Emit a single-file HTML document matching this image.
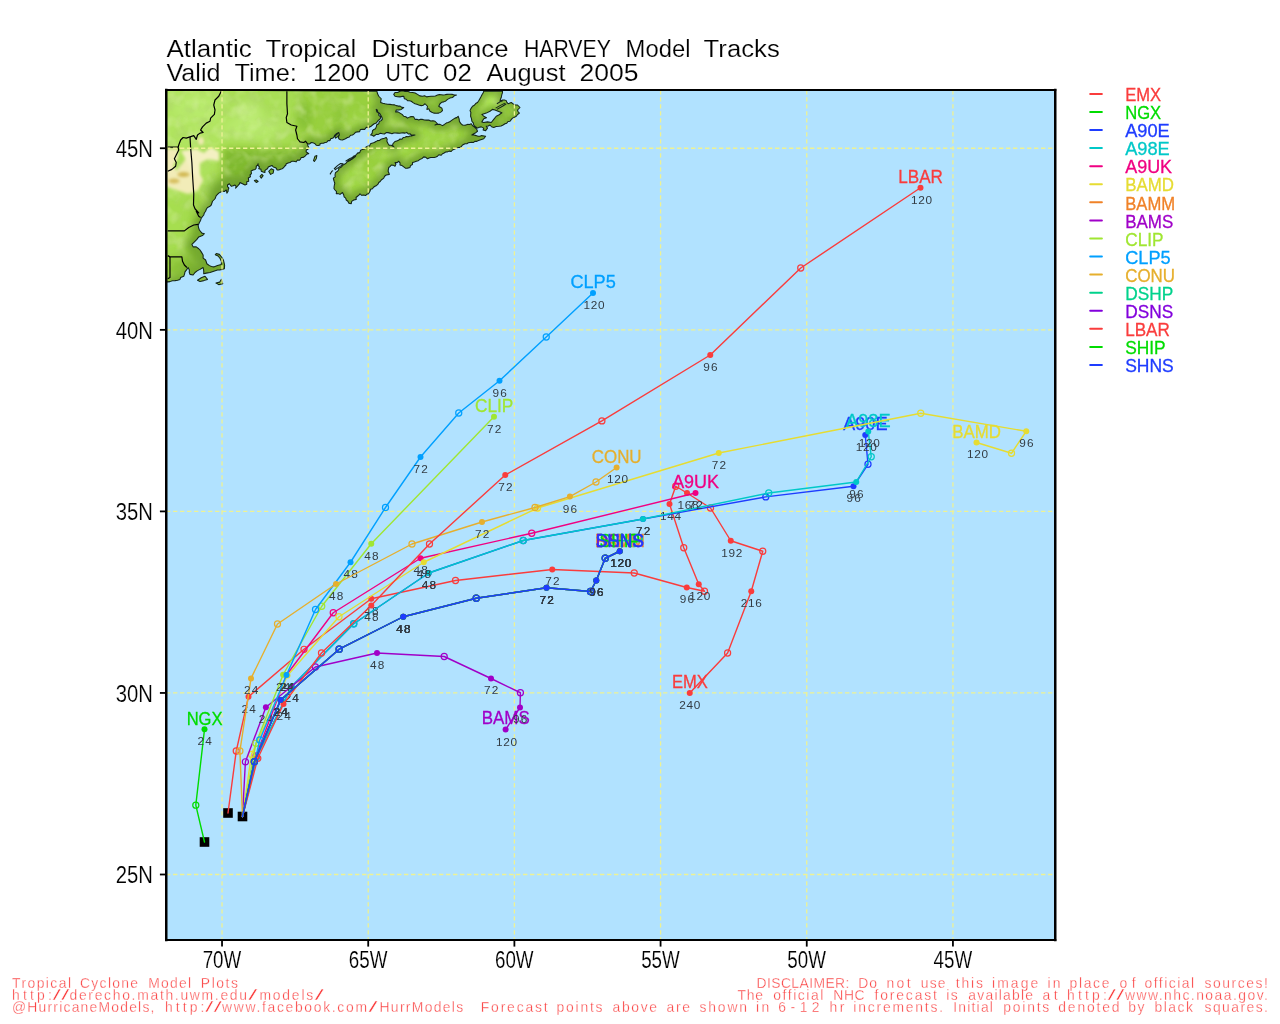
<!DOCTYPE html>
<html lang="en"><head><meta charset="utf-8">
<title>Atlantic Tropical Disturbance HARVEY Model Tracks</title>
<style>
html,body{margin:0;padding:0;background:#fff;}
body{width:1280px;height:1024px;overflow:hidden;}
svg{display:block;}
text{font-family:"Liberation Sans", Arial, Helvetica, sans-serif;}
.ttl{font-size:23.1px;fill:#000;stroke:#fff;stroke-width:0.16px;}
.ax{font-size:23.7px;fill:#000;stroke:#fff;stroke-width:0.16px;}
.nm{font-size:18.5px;stroke-width:0.3px;}
.hr{font-size:11.8px;fill:#333c44;}
.ft{font-size:13.9px;fill:#fa4040;stroke:#fff;stroke-width:0.32px;}
.trk{fill:none;stroke-width:1.4;stroke-linejoin:round;stroke-linecap:round;}
.coast{fill:none;stroke:#14241c;stroke-width:1.05;stroke-linejoin:round;}
.bord{fill:none;stroke:#000;stroke-width:1.2;stroke-linejoin:round;}
</style></head><body>
<svg width="1280" height="1024" viewBox="0 0 1280 1024">
<defs>
<clipPath id="mapclip"><rect x="166.25" y="90.0" width="889.0" height="850.0"/></clipPath>
<clipPath id="landclip"><path clip-rule="evenodd" d="M166.5 90 L376.88 91.25 L377.57 93.84 L378.75 96.25 L381.25 98.75 L380.84 100.61 L380.62 102.5 L382.76 103.31 L385 103.75 L387.49 104.16 L390 104.38 L392.1 104.71 L394.24 104.86 L396.25 105.62 L398.12 106.11 L400.12 106.08 L401.79 107.36 L403.75 107.5 L401.25 109.38 L398.8 110.1 L396.25 110 L395.62 111.88 L397.98 111.89 L400 113.12 L402.09 114.42 L403.75 116.25 L405.83 116.78 L407.5 118.12 L410 116.88 L411.88 116.45 L413.75 116.88 L415 119.38 L416.95 119.26 L418.75 120 L420.54 119.18 L422.5 119.38 L424.53 120.08 L426.64 120.11 L428.75 120 L430.7 121.08 L432.95 120.68 L435 121.25 L437.5 123.75 L435 125 L437.44 124.22 L440 124.38 L442.5 125.62 L444.43 124.45 L446.25 123.12 L448.05 122.54 L449.76 121.81 L451.25 120.62 L453.1 119.33 L455 118.12 L456.83 117.63 L458.12 116.25 L459.07 118.67 L459.38 121.25 L460.64 123.37 L462.5 125 L465.06 125.18 L467.5 124.38 L469.44 124.44 L471.25 123.75 L472.81 125.94 L475 127.5 L476.66 129.1 L477.5 131.25 L475.77 132.71 L473.75 133.75 L471.88 135 L474.1 135.05 L476.25 135.62 L478.07 136.27 L480 136.25 L481.25 135.62 L485.62 136.25 L483.75 138.75 L480 140 L480 140 L478.37 140.57 L476.81 141.39 L475 141.25 L473.53 142.44 L471.71 142.25 L470 142.5 L468.29 142.76 L466.79 143.84 L465 143.75 L462.5 145 L461.25 146.66 L459.54 147.42 L457.5 147.5 L455.94 148.56 L454.22 149.27 L452.5 150 L451.17 151.52 L449.12 151.13 L447.5 151.88 L445.65 152.02 L444.11 152.98 L442.5 153.75 L441.18 155.27 L438.84 154.76 L437.5 156.25 L435.93 157.04 L434.26 157.44 L432.5 157.5 L430.71 157.44 L429.06 157.92 L427.5 158.75 L425.88 157.3 L423.75 156.88 L422.1 158.47 L420 159.38 L418.3 160.67 L416.25 161.25 L414.38 161.9 L412.5 162.5 L412.46 164.56 L410.44 165.64 L410 167.5 L407.5 168.12 L405.39 168.21 L403.75 166.88 L402.06 165.57 L400 165 L400.02 162.91 L398.75 161.25 L397.12 162.62 L395 162.5 L395.89 164.38 L395 166.25 L393.28 165.17 L391.25 165 L390.18 166.43 L388.75 167.5 L388.39 169.37 L388.12 171.25 L388.8 172.79 L389.38 174.38 L386.25 175 L384.58 176.22 L383.75 178.12 L381.25 180 L380.2 181.45 L378.75 182.5 L377.97 184.22 L376.66 185.41 L375 186.25 L373.5 187.25 L372.5 188.75 L370.58 189.33 L370 191.25 L368.5 193.75 L366.92 194.17 L365.59 195.55 L363.75 195 L361.57 195.29 L360 193.75 L358.92 195.17 L357.5 196.25 L356.02 197.47 L356.25 199.38 L353.75 200 L351.68 201.33 L351.25 203.75 L348.75 203.12 L347.9 201.24 L346.25 200 L345.7 198.19 L344.1 196.91 L343.75 195 L342.5 192.5 L340 194.38 L338.2 193.61 L336.25 193.75 L336.56 191.56 L335 190 L333.98 188.43 L334.09 186.73 L334.38 185 L334.79 183.26 L334.23 181.63 L333.75 180 L333.34 178.13 L335.23 176.83 L335 175 L335.49 172.62 L337.5 171.25 L338.57 170.02 L338.87 168.16 L340.62 167.5 L341.9 166.28 L343.12 165 L344.86 164.08 L346.42 162.94 L347.5 161.25 L349.22 160.07 L351.37 159.47 L352.5 157.5 L353.57 156.2 L355.21 155.54 L356.54 154.55 L357.5 153.12 L359.72 152.62 L360.6 150.31 L362.5 149.38 L364.51 148.88 L365.78 147.21 L367.5 146.25 L369.59 145.88 L370.54 143.7 L372.5 143.12 L374.27 142.49 L375.9 141.58 L377.5 140.62 L379.36 140.52 L380.82 139.34 L382.5 138.75 L384.42 138.26 L386.25 137.5 L387.2 139.27 L386.88 141.25 L388.12 143.75 L389.28 145.35 L391.25 145.25 L392.63 146.18 L394 147.12 L392.8 145.79 L392.75 144 L393.86 142.73 L395 141.5 L396.79 140.91 L398.57 140.31 L400 139 L401.92 139.15 L403.22 137.51 L405 137.25 L406.57 136.46 L408.4 136.68 L410 136 L411.72 135.95 L413.27 135.01 L415 135 L413.1 135.51 L411.44 135.07 L410 133.75 L408.28 133.99 L406.78 132.4 L405 133.12 L403.12 132.89 L401.25 133.07 L399.38 133.31 L397.5 133.12 L395.62 132.96 L393.75 132.92 L391.88 133.75 L390 133.12 L388.07 132.62 L386.17 132.54 L384.41 133.98 L382.5 133.75 L380.35 133.29 L378.36 134.41 L376.25 134.38 L373.75 136.25 L372.32 135.28 L370.62 135 L372.23 133.1 L372.5 130.62 L373.86 129.48 L375.55 128.68 L376.25 126.88 L376.8 124.76 L378.75 123.75 L379.24 121.58 L381.25 120.62 L382.37 119.09 L381.88 117.25 L380.8 115.38 L379.75 113.5 L377.82 112.23 L377.25 110 L376.25 109.38 L376.77 111.74 L378.75 113.12 L378.82 115.43 L380.62 116.88 L380.27 118.79 L378.75 120 L377.35 121.44 L376.25 123.12 L374.23 123.77 L372.5 125 L370.7 126.57 L368.5 127.5 L366.25 127.31 L364.69 129.36 L362.5 129.38 L360.44 129.42 L359.53 131.77 L357.5 131.88 L355.48 132.35 L354.1 133.86 L352.5 135 L350.52 135.2 L349.31 136.96 L347.5 137.5 L345.89 138.44 L344.26 139.35 L342.5 140 L340.5 139.74 L338.75 138.75 L338.45 136.77 L339.38 135 L338.75 132.5 L336.25 133.75 L334.62 135.37 L333.75 137.5 L332.34 138.35 L330.62 138.83 L330 140.62 L328.08 140.58 L326.78 142.18 L325 142.5 L323.41 143.22 L321.65 143.28 L320 143.75 L320 145 L318.11 145.46 L316.38 145.32 L315 143.75 L313.22 142.85 L311.25 142.5 L309.66 143.98 L307.5 143.75 L307.88 145.71 L308.75 147.5 L307.99 149.24 L306.25 150 L306.15 151.87 L307.46 152.8 L308.75 153.75 L307.11 154 L305.98 155.02 L305 156.25 L303.3 157.39 L301.25 157.5 L300.49 159.07 L299.46 160.24 L297.5 160 L296.03 161.85 L293.75 161.25 L291.69 161.33 L290 162.5 L288.09 163.02 L286.25 163.75 L285.77 165.23 L284.58 166.25 L283.75 167.5 L282.25 168.66 L280.44 169.21 L278.75 170 L277.01 169.91 L276.34 168.2 L275 167.5 L273.36 166.99 L271.96 165.48 L270 166.25 L268.28 167.03 L267.5 168.75 L266 169.55 L264.88 170.61 L265 172.5 L263.1 171.95 L261.25 171.25 L260.89 169.11 L258.75 168.75 L259.42 166.97 L258.03 165.45 L258.12 163.75 L257.51 165.24 L256.25 166.25 L256.13 168.27 L255.13 169.55 L253.12 170 L251.07 171.04 L251.47 173.6 L250 175 L250.48 176.72 L248.33 177.92 L248.56 179.59 L248.75 181.25 L246.75 181.75 L246.79 184.29 L245 185 L242.5 183.75 L240 182.5 L239.45 183.94 L238.36 185.02 L237.5 186.25 L235.62 188.12 L236.11 186.4 L235 185 L233.2 185.84 L231.25 186.25 L230.3 185.01 L229.38 183.75 L227.5 185 L227.57 186.57 L228.91 188.02 L228.12 189.67 L228.12 191.25 L226.88 193.12 L226.69 191.54 L226.25 190 L224.38 191.5 L222.12 191 L222.12 191.25 L218.75 193.12 L216.25 195.62 L215 198.75 L212.5 201.25 L211.25 205 L209.6 206.58 L207.5 207.5 L206.31 209.25 L205.62 211.25 L204.34 212.95 L203.75 215 L201.25 218.12 L200.57 220.42 L199.38 222.5 L198.12 225.62 L198.65 227.84 L199.38 230 L201.88 233.12 L204.38 233.75 L202.5 235.62 L198.75 236.88 L196.88 239.38 L194.38 241.88 L191.88 244.38 L193.12 246.88 L196.25 246.88 L198.75 248.75 L200.14 250.2 L201.25 251.88 L203.12 255 L203.12 258.12 L205.62 260 L206.88 263.75 L209.38 265.62 L211.51 266.44 L213.75 266.88 L217.5 265.62 L221.25 264.38 L221.5 261.88 L220.25 258.75 L218.12 256 L215.25 254.75 L216.25 253.5 L219.38 254.38 L221.88 257.5 L222.96 259.3 L223.75 261.25 L224.62 265 L224.38 268.75 L221.88 269.38 L219.72 269.92 L217.5 270 L213.75 271.25 L210 272.5 L206.25 273.12 L203.75 273.75 L203.78 271.64 L203.56 269.56 L203.12 267.5 L200 269.38 L197.5 270.62 L195 272.5 L193.12 275 L190 274.38 L189.25 272.25 L189.38 270 L188.12 267.5 L186.88 269.38 L185 271.88 L184.52 274.11 L183.75 276.25 L180.62 277.5 L180 279.38 L177.55 280.2 L175 280.62 L172.42 280.73 L170 281.62 L167.75 281.88 L166.5 282ZM395 92.5 L397.64 92.42 L400 91.25 L402.53 90.79 L405 91.5 L407.5 91.25 L409.93 92.15 L412.5 92.5 L415.14 93.06 L417.5 94.38 L419.8 95.86 L422.5 96.25 L424.61 95.75 L426.65 96.87 L428.75 96.5 L430.97 96.34 L433.2 96.17 L435.41 95.97 L437.5 95 L439.36 94.63 L441.24 94.68 L443.13 95.06 L445 94.75 L446.86 94.39 L448.74 94.28 L450.61 94.15 L452.5 94.38 L454.43 95.11 L456.5 95 L454.26 95.87 L452.5 97.5 L449.87 98.11 L447.5 99.38 L445.81 100.91 L443.75 101.88 L441.65 102.36 L440 103.75 L438.75 106.25 L440.31 107.2 L441.88 108.12 L442.5 110.62 L440.8 112.14 L438.75 113.12 L436.25 113.17 L433.75 113.12 L431.83 112.27 L430 111.25 L428.75 108.75 L426.88 109.38 L427.5 106.25 L425 103.75 L423.35 105.14 L421.25 105.62 L418.75 105 L416.9 104.3 L415 103.75 L413.03 102.64 L411.25 101.25 L409.39 100.85 L407.5 100.62 L406.21 99.24 L404.38 98.75 L403.75 96.25 L401.85 96.39 L400 96.88 L397.49 96.68 L395 96.25 L393.75 94.38ZM483.75 91.25 L483.09 93 L482.11 94.6 L481.25 96.25 L480.41 97.87 L479.44 99.41 L478.55 101 L477.5 102.5 L475.7 103.57 L474.37 105.27 L472.5 106.25 L471.09 108.34 L470 110.62 L470.89 112.42 L470.69 114.34 L470.62 116.25 L471.47 118.69 L471.88 121.25 L473.26 122.9 L473.75 125 L475.41 126.82 L477.5 128.12 L479.29 127.25 L481.25 126.88 L483.75 128.12 L483.12 130 L485.62 130.62 L487.5 128.12 L486.25 126.25 L488.25 126.01 L490 125 L491.52 126.78 L493.75 127.5 L496.17 126.54 L498.75 126.25 L501.04 125.93 L503.08 124.98 L505 123.75 L506.77 123.13 L508.04 121.49 L510 121.25 L511.2 119.65 L512.5 118.12 L514.45 117.34 L516.25 116.25 L517.61 114.48 L519.38 113.12 L518.11 111.76 L517.5 110 L520 107.5 L517.5 105 L515.58 104.95 L513.75 104.38 L511.25 102.5 L508.12 103.75 L506.89 102.36 L506.25 100.62 L504.44 99.91 L502.5 100 L500 101.25 L500.42 99.31 L501.25 97.5 L501.77 94.97 L502.5 92.5 L502.5 91.25ZM492.5 109.38 L495 110 L498.12 111.25 L501.88 112.75 L498.75 115 L496.25 116.25 L493.75 119.38 L491.25 122.5 L487.5 121.88 L483.75 122.5 L481.88 121.88 L483.75 118.75 L486.5 117.75 L483.75 116.25 L481.88 114.38 L486.25 113.12 L490 111.25ZM197.5 280.25 L201.25 277.75 L205 276.25 L207.5 279.38 L203.75 280.62 L200 281.5ZM216 283.12 L219.75 282.12 L221.25 279.38 L222.75 283.75 L218.75 284.62ZM313.5 160.62 L315 156.25 L316.88 155.62 L316.25 158.75 L314.38 161.5ZM268.75 171.25 L271.25 168.75 L273.75 170 L273.12 173.12 L270.62 174.38ZM260 176.25 L261.88 174.38 L263.12 175.62 L261.25 178.12ZM254.38 180.62 L256.25 180 L258.12 181.5 L256.25 182.5ZM335 136.25 L336.88 134.38 L338.75 132.5 L339.38 134.75 L337.5 136.88 L335.62 138.12Z"/></clipPath>
<filter id="bl6" x="-50%" y="-50%" width="200%" height="200%"><feGaussianBlur stdDeviation="6"/></filter>
<filter id="texd" filterUnits="userSpaceOnUse" x="160" y="85" width="380" height="215"><feTurbulence type="fractalNoise" baseFrequency="0.085" numOctaves="2" seed="7"/><feColorMatrix type="matrix" values="0 0 0 0 0.43  0 0 0 0 0.66  0 0 0 0 0.16  2.6 0 0 0 -1.18"/></filter>
<filter id="texl" filterUnits="userSpaceOnUse" x="160" y="85" width="380" height="215"><feTurbulence type="fractalNoise" baseFrequency="0.085" numOctaves="2" seed="21"/><feColorMatrix type="matrix" values="0 0 0 0 0.76  0 0 0 0 0.93  0 0 0 0 0.46  0 2.6 0 0 -1.18"/></filter>
<filter id="bl2" x="-50%" y="-50%" width="200%" height="200%"><feGaussianBlur stdDeviation="1.8"/></filter>
<filter id="bl3" x="-50%" y="-50%" width="200%" height="200%"><feGaussianBlur stdDeviation="3"/></filter>
</defs>
<rect x="0" y="0" width="1280" height="1024" fill="#fff"/>
<rect x="166.25" y="90.0" width="889.0" height="850.0" fill="#b1e2ff"/>
<g clip-path="url(#mapclip)">
<g clip-path="url(#landclip)">
<rect x="160" y="85" width="370" height="210" fill="#98d03e"/>
<g filter="url(#bl6)">
<rect x="150" y="76" width="76" height="76" fill="#b0e45e"/>
<rect x="224" y="76" width="72" height="70" fill="#a9df55"/>
<ellipse cx="252" cy="128" rx="30" ry="13" fill="#b8ea6c"/>
<ellipse cx="248" cy="110" rx="12" ry="7" fill="#c4ee80"/>
<ellipse cx="196" cy="108" rx="24" ry="14" fill="#b8ea6c"/>
<rect x="150" y="150" width="70" height="46" fill="#aee25c"/>
<rect x="150" y="196" width="42" height="62" fill="#a6de50"/>
<ellipse cx="360" cy="128" rx="22" ry="10" fill="#a2da4a"/>
<ellipse cx="355" cy="178" rx="14" ry="10" fill="#a2da4a"/>
<ellipse cx="395" cy="150" rx="18" ry="7" fill="#a2da4a"/>
<ellipse cx="430" cy="135" rx="20" ry="7" fill="#a2da4a"/>
<ellipse cx="492" cy="100" rx="10" ry="12" fill="#b0e85c"/>
</g>
<g filter="url(#bl3)">
<rect x="223.5" y="149.5" width="90" height="50" fill="#80b92f" fill-opacity="0.95"/>
<ellipse cx="304" cy="116" rx="8" ry="14" fill="#86bf33" fill-opacity="0.8"/>
<ellipse cx="340" cy="120" rx="6" ry="16" fill="#8ac436" fill-opacity="0.7"/>
</g>
<rect x="160" y="85" width="380" height="215" filter="url(#texd)" opacity="0.5"/>
<rect x="160" y="85" width="380" height="215" filter="url(#texl)" opacity="0.32"/>
<g filter="url(#bl3)" fill="none" stroke="#6b9c2a" stroke-linejoin="round">
<path stroke-width="10" stroke-opacity="0.8" d="M376.88 91.25 L377.57 93.84 L378.75 96.25 L381.25 98.75 L380.84 100.61 L380.62 102.5 L382.76 103.31 L385 103.75 L387.49 104.16 L390 104.38 L392.1 104.71 L394.24 104.86 L396.25 105.62 L398.12 106.11 L400.12 106.08 L401.79 107.36 L403.75 107.5 L401.25 109.38 L398.8 110.1 L396.25 110 L395.62 111.88 L397.98 111.89 L400 113.12 L402.09 114.42 L403.75 116.25 L405.83 116.78 L407.5 118.12 L410 116.88 L411.88 116.45 L413.75 116.88 L415 119.38 L416.95 119.26 L418.75 120 L420.54 119.18 L422.5 119.38 L424.53 120.08 L426.64 120.11 L428.75 120 L430.7 121.08 L432.95 120.68 L435 121.25 L437.5 123.75 L435 125 L437.44 124.22 L440 124.38 L442.5 125.62 L444.43 124.45 L446.25 123.12 L448.05 122.54 L449.76 121.81 L451.25 120.62 L453.1 119.33 L455 118.12 L456.83 117.63 L458.12 116.25 L459.07 118.67 L459.38 121.25 L460.64 123.37 L462.5 125 L465.06 125.18 L467.5 124.38 L469.44 124.44 L471.25 123.75 L472.81 125.94 L475 127.5 L476.66 129.1 L477.5 131.25 L475.77 132.71 L473.75 133.75 L471.88 135 L474.1 135.05 L476.25 135.62 L478.07 136.27 L480 136.25 L481.25 135.62 L485.62 136.25 L483.75 138.75 L480 140 L480 140 L478.37 140.57 L476.81 141.39 L475 141.25 L473.53 142.44 L471.71 142.25 L470 142.5 L468.29 142.76 L466.79 143.84 L465 143.75 L462.5 145 L461.25 146.66 L459.54 147.42 L457.5 147.5 L455.94 148.56 L454.22 149.27 L452.5 150 L451.17 151.52 L449.12 151.13 L447.5 151.88 L445.65 152.02 L444.11 152.98 L442.5 153.75 L441.18 155.27 L438.84 154.76 L437.5 156.25 L435.93 157.04 L434.26 157.44 L432.5 157.5 L430.71 157.44 L429.06 157.92 L427.5 158.75 L425.88 157.3 L423.75 156.88 L422.1 158.47 L420 159.38 L418.3 160.67 L416.25 161.25 L414.38 161.9 L412.5 162.5 L412.46 164.56 L410.44 165.64 L410 167.5 L407.5 168.12 L405.39 168.21 L403.75 166.88 L402.06 165.57 L400 165 L400.02 162.91 L398.75 161.25 L397.12 162.62 L395 162.5 L395.89 164.38 L395 166.25 L393.28 165.17 L391.25 165 L390.18 166.43 L388.75 167.5 L388.39 169.37 L388.12 171.25 L388.8 172.79 L389.38 174.38 L386.25 175 L384.58 176.22 L383.75 178.12 L381.25 180 L380.2 181.45 L378.75 182.5 L377.97 184.22 L376.66 185.41 L375 186.25 L373.5 187.25 L372.5 188.75 L370.58 189.33 L370 191.25 L368.5 193.75 L366.92 194.17 L365.59 195.55 L363.75 195 L361.57 195.29 L360 193.75 L358.92 195.17 L357.5 196.25 L356.02 197.47 L356.25 199.38 L353.75 200 L351.68 201.33 L351.25 203.75 L348.75 203.12 L347.9 201.24 L346.25 200 L345.7 198.19 L344.1 196.91 L343.75 195 L342.5 192.5 L340 194.38 L338.2 193.61 L336.25 193.75 L336.56 191.56 L335 190 L333.98 188.43 L334.09 186.73 L334.38 185 L334.79 183.26 L334.23 181.63 L333.75 180 L333.34 178.13 L335.23 176.83 L335 175 L335.49 172.62 L337.5 171.25 L338.57 170.02 L338.87 168.16 L340.62 167.5 L341.9 166.28 L343.12 165 L344.86 164.08 L346.42 162.94 L347.5 161.25 L349.22 160.07 L351.37 159.47 L352.5 157.5 L353.57 156.2 L355.21 155.54 L356.54 154.55 L357.5 153.12 L359.72 152.62 L360.6 150.31 L362.5 149.38 L364.51 148.88 L365.78 147.21 L367.5 146.25 L369.59 145.88 L370.54 143.7 L372.5 143.12 L374.27 142.49 L375.9 141.58 L377.5 140.62 L379.36 140.52 L380.82 139.34 L382.5 138.75 L384.42 138.26 L386.25 137.5 L387.2 139.27 L386.88 141.25 L388.12 143.75 L389.28 145.35 L391.25 145.25 L392.63 146.18 L394 147.12 L392.8 145.79 L392.75 144 L393.86 142.73 L395 141.5 L396.79 140.91 L398.57 140.31 L400 139 L401.92 139.15 L403.22 137.51 L405 137.25 L406.57 136.46 L408.4 136.68 L410 136 L411.72 135.95 L413.27 135.01 L415 135 L413.1 135.51 L411.44 135.07 L410 133.75 L408.28 133.99 L406.78 132.4 L405 133.12 L403.12 132.89 L401.25 133.07 L399.38 133.31 L397.5 133.12 L395.62 132.96 L393.75 132.92 L391.88 133.75 L390 133.12 L388.07 132.62 L386.17 132.54 L384.41 133.98 L382.5 133.75 L380.35 133.29 L378.36 134.41 L376.25 134.38 L373.75 136.25 L372.32 135.28 L370.62 135 L372.23 133.1 L372.5 130.62 L373.86 129.48 L375.55 128.68 L376.25 126.88 L376.8 124.76 L378.75 123.75 L379.24 121.58 L381.25 120.62 L382.37 119.09 L381.88 117.25 L380.8 115.38 L379.75 113.5 L377.82 112.23 L377.25 110 L376.25 109.38 L376.77 111.74 L378.75 113.12 L378.82 115.43 L380.62 116.88 L380.27 118.79 L378.75 120 L377.35 121.44 L376.25 123.12 L374.23 123.77 L372.5 125 L370.7 126.57 L368.5 127.5 L366.25 127.31 L364.69 129.36 L362.5 129.38 L360.44 129.42 L359.53 131.77 L357.5 131.88 L355.48 132.35 L354.1 133.86 L352.5 135 L350.52 135.2 L349.31 136.96 L347.5 137.5 L345.89 138.44 L344.26 139.35 L342.5 140 L340.5 139.74 L338.75 138.75 L338.45 136.77 L339.38 135 L338.75 132.5 L336.25 133.75 L334.62 135.37 L333.75 137.5 L332.34 138.35 L330.62 138.83 L330 140.62 L328.08 140.58 L326.78 142.18 L325 142.5 L323.41 143.22 L321.65 143.28 L320 143.75 L320 145 L318.11 145.46 L316.38 145.32 L315 143.75 L313.22 142.85 L311.25 142.5 L309.66 143.98 L307.5 143.75 L307.88 145.71 L308.75 147.5 L307.99 149.24 L306.25 150 L306.15 151.87 L307.46 152.8 L308.75 153.75 L307.11 154 L305.98 155.02 L305 156.25 L303.3 157.39 L301.25 157.5 L300.49 159.07 L299.46 160.24 L297.5 160 L296.03 161.85 L293.75 161.25 L291.69 161.33 L290 162.5 L288.09 163.02 L286.25 163.75 L285.77 165.23 L284.58 166.25 L283.75 167.5 L282.25 168.66 L280.44 169.21 L278.75 170 L277.01 169.91 L276.34 168.2 L275 167.5 L273.36 166.99 L271.96 165.48 L270 166.25 L268.28 167.03 L267.5 168.75 L266 169.55 L264.88 170.61 L265 172.5 L263.1 171.95 L261.25 171.25 L260.89 169.11 L258.75 168.75 L259.42 166.97 L258.03 165.45 L258.12 163.75 L257.51 165.24 L256.25 166.25 L256.13 168.27 L255.13 169.55 L253.12 170 L251.07 171.04 L251.47 173.6 L250 175 L250.48 176.72 L248.33 177.92 L248.56 179.59 L248.75 181.25 L246.75 181.75 L246.79 184.29 L245 185 L242.5 183.75 L240 182.5 L239.45 183.94 L238.36 185.02 L237.5 186.25 L235.62 188.12 L236.11 186.4 L235 185 L233.2 185.84 L231.25 186.25 L230.3 185.01 L229.38 183.75 L227.5 185 L227.57 186.57 L228.91 188.02 L228.12 189.67 L228.12 191.25 L226.88 193.12 L226.69 191.54 L226.25 190 L224.38 191.5 L222.12 191 L222.12 191.25 L218.75 193.12 L216.25 195.62 L215 198.75 L212.5 201.25 L211.25 205 L209.6 206.58 L207.5 207.5 L206.31 209.25 L205.62 211.25 L204.34 212.95 L203.75 215 L201.25 218.12 L200.57 220.42 L199.38 222.5 L198.12 225.62 L198.65 227.84 L199.38 230 L201.88 233.12 L204.38 233.75 L202.5 235.62 L198.75 236.88 L196.88 239.38 L194.38 241.88 L191.88 244.38 L193.12 246.88 L196.25 246.88 L198.75 248.75 L200.14 250.2 L201.25 251.88 L203.12 255 L203.12 258.12 L205.62 260 L206.88 263.75 L209.38 265.62 L211.51 266.44 L213.75 266.88 L217.5 265.62 L221.25 264.38 L221.5 261.88 L220.25 258.75 L218.12 256 L215.25 254.75 L216.25 253.5 L219.38 254.38 L221.88 257.5 L222.96 259.3 L223.75 261.25 L224.62 265 L224.38 268.75 L221.88 269.38 L219.72 269.92 L217.5 270 L213.75 271.25 L210 272.5 L206.25 273.12 L203.75 273.75 L203.78 271.64 L203.56 269.56 L203.12 267.5 L200 269.38 L197.5 270.62 L195 272.5 L193.12 275 L190 274.38 L189.25 272.25 L189.38 270 L188.12 267.5 L186.88 269.38 L185 271.88 L184.52 274.11 L183.75 276.25 L180.62 277.5 L180 279.38 L177.55 280.2 L175 280.62 L172.42 280.73 L170 281.62 L167.75 281.88"/>
<path stroke-width="7" stroke-opacity="0.75" d="M395 92.5 L397.64 92.42 L400 91.25 L402.53 90.79 L405 91.5 L407.5 91.25 L409.93 92.15 L412.5 92.5 L415.14 93.06 L417.5 94.38 L419.8 95.86 L422.5 96.25 L424.61 95.75 L426.65 96.87 L428.75 96.5 L430.97 96.34 L433.2 96.17 L435.41 95.97 L437.5 95 L439.36 94.63 L441.24 94.68 L443.13 95.06 L445 94.75 L446.86 94.39 L448.74 94.28 L450.61 94.15 L452.5 94.38 L454.43 95.11 L456.5 95 L454.26 95.87 L452.5 97.5 L449.87 98.11 L447.5 99.38 L445.81 100.91 L443.75 101.88 L441.65 102.36 L440 103.75 L438.75 106.25 L440.31 107.2 L441.88 108.12 L442.5 110.62 L440.8 112.14 L438.75 113.12 L436.25 113.17 L433.75 113.12 L431.83 112.27 L430 111.25 L428.75 108.75 L426.88 109.38 L427.5 106.25 L425 103.75 L423.35 105.14 L421.25 105.62 L418.75 105 L416.9 104.3 L415 103.75 L413.03 102.64 L411.25 101.25 L409.39 100.85 L407.5 100.62 L406.21 99.24 L404.38 98.75 L403.75 96.25 L401.85 96.39 L400 96.88 L397.49 96.68 L395 96.25 L393.75 94.38Z"/>
<path stroke-width="7" stroke-opacity="0.75" d="M483.75 91.25 L483.09 93 L482.11 94.6 L481.25 96.25 L480.41 97.87 L479.44 99.41 L478.55 101 L477.5 102.5 L475.7 103.57 L474.37 105.27 L472.5 106.25 L471.09 108.34 L470 110.62 L470.89 112.42 L470.69 114.34 L470.62 116.25 L471.47 118.69 L471.88 121.25 L473.26 122.9 L473.75 125 L475.41 126.82 L477.5 128.12 L479.29 127.25 L481.25 126.88 L483.75 128.12 L483.12 130 L485.62 130.62 L487.5 128.12 L486.25 126.25 L488.25 126.01 L490 125 L491.52 126.78 L493.75 127.5 L496.17 126.54 L498.75 126.25 L501.04 125.93 L503.08 124.98 L505 123.75 L506.77 123.13 L508.04 121.49 L510 121.25 L511.2 119.65 L512.5 118.12 L514.45 117.34 L516.25 116.25 L517.61 114.48 L519.38 113.12 L518.11 111.76 L517.5 110 L520 107.5 L517.5 105 L515.58 104.95 L513.75 104.38 L511.25 102.5 L508.12 103.75 L506.89 102.36 L506.25 100.62 L504.44 99.91 L502.5 100 L500 101.25 L500.42 99.31 L501.25 97.5 L501.77 94.97 L502.5 92.5 L502.5 91.25ZM492.5 109.38 L495 110 L498.12 111.25 L501.88 112.75 L498.75 115 L496.25 116.25 L493.75 119.38 L491.25 122.5 L487.5 121.88 L483.75 122.5 L481.88 121.88 L483.75 118.75 L486.5 117.75 L483.75 116.25 L481.88 114.38 L486.25 113.12 L490 111.25Z"/>
</g>
<g filter="url(#bl6)">
<ellipse cx="232" cy="190" rx="24" ry="13" fill="#6fa32c" fill-opacity="0.9"/>
<ellipse cx="203" cy="250" rx="15" ry="24" fill="#74a82e" fill-opacity="0.9"/>
<ellipse cx="180" cy="268" rx="10" ry="12" fill="#86bf33" fill-opacity="0.9"/>
</g>
<g filter="url(#bl2)">
<path d="M166 149 L178 149 L178 158 L173 166 L177 171 L187 157 L198 170 L203 180 L198 190 L188 194 L176 190 L166 186Z" fill="#f2ecb8"/>
<path d="M181 151 L196 149 L204 153 L211 147 L219 152 L219 161 L208 159 L200 163 L200 180 L192 172 L186 160Z" fill="#f4f0c2"/>
<ellipse cx="201" cy="141" rx="3" ry="4" fill="#eeeab0"/>
</g>
<g filter="url(#bl2)">
<ellipse cx="183.5" cy="174.5" rx="6" ry="2.6" fill="#d2b852"/>
<ellipse cx="174" cy="181" rx="5.5" ry="2.6" fill="#d6bd5c"/>
</g>
</g>
<path class="coast" fill-rule="evenodd" d="M166.5 90 L376.88 91.25 L377.57 93.84 L378.75 96.25 L381.25 98.75 L380.84 100.61 L380.62 102.5 L382.76 103.31 L385 103.75 L387.49 104.16 L390 104.38 L392.1 104.71 L394.24 104.86 L396.25 105.62 L398.12 106.11 L400.12 106.08 L401.79 107.36 L403.75 107.5 L401.25 109.38 L398.8 110.1 L396.25 110 L395.62 111.88 L397.98 111.89 L400 113.12 L402.09 114.42 L403.75 116.25 L405.83 116.78 L407.5 118.12 L410 116.88 L411.88 116.45 L413.75 116.88 L415 119.38 L416.95 119.26 L418.75 120 L420.54 119.18 L422.5 119.38 L424.53 120.08 L426.64 120.11 L428.75 120 L430.7 121.08 L432.95 120.68 L435 121.25 L437.5 123.75 L435 125 L437.44 124.22 L440 124.38 L442.5 125.62 L444.43 124.45 L446.25 123.12 L448.05 122.54 L449.76 121.81 L451.25 120.62 L453.1 119.33 L455 118.12 L456.83 117.63 L458.12 116.25 L459.07 118.67 L459.38 121.25 L460.64 123.37 L462.5 125 L465.06 125.18 L467.5 124.38 L469.44 124.44 L471.25 123.75 L472.81 125.94 L475 127.5 L476.66 129.1 L477.5 131.25 L475.77 132.71 L473.75 133.75 L471.88 135 L474.1 135.05 L476.25 135.62 L478.07 136.27 L480 136.25 L481.25 135.62 L485.62 136.25 L483.75 138.75 L480 140 L480 140 L478.37 140.57 L476.81 141.39 L475 141.25 L473.53 142.44 L471.71 142.25 L470 142.5 L468.29 142.76 L466.79 143.84 L465 143.75 L462.5 145 L461.25 146.66 L459.54 147.42 L457.5 147.5 L455.94 148.56 L454.22 149.27 L452.5 150 L451.17 151.52 L449.12 151.13 L447.5 151.88 L445.65 152.02 L444.11 152.98 L442.5 153.75 L441.18 155.27 L438.84 154.76 L437.5 156.25 L435.93 157.04 L434.26 157.44 L432.5 157.5 L430.71 157.44 L429.06 157.92 L427.5 158.75 L425.88 157.3 L423.75 156.88 L422.1 158.47 L420 159.38 L418.3 160.67 L416.25 161.25 L414.38 161.9 L412.5 162.5 L412.46 164.56 L410.44 165.64 L410 167.5 L407.5 168.12 L405.39 168.21 L403.75 166.88 L402.06 165.57 L400 165 L400.02 162.91 L398.75 161.25 L397.12 162.62 L395 162.5 L395.89 164.38 L395 166.25 L393.28 165.17 L391.25 165 L390.18 166.43 L388.75 167.5 L388.39 169.37 L388.12 171.25 L388.8 172.79 L389.38 174.38 L386.25 175 L384.58 176.22 L383.75 178.12 L381.25 180 L380.2 181.45 L378.75 182.5 L377.97 184.22 L376.66 185.41 L375 186.25 L373.5 187.25 L372.5 188.75 L370.58 189.33 L370 191.25 L368.5 193.75 L366.92 194.17 L365.59 195.55 L363.75 195 L361.57 195.29 L360 193.75 L358.92 195.17 L357.5 196.25 L356.02 197.47 L356.25 199.38 L353.75 200 L351.68 201.33 L351.25 203.75 L348.75 203.12 L347.9 201.24 L346.25 200 L345.7 198.19 L344.1 196.91 L343.75 195 L342.5 192.5 L340 194.38 L338.2 193.61 L336.25 193.75 L336.56 191.56 L335 190 L333.98 188.43 L334.09 186.73 L334.38 185 L334.79 183.26 L334.23 181.63 L333.75 180 L333.34 178.13 L335.23 176.83 L335 175 L335.49 172.62 L337.5 171.25 L338.57 170.02 L338.87 168.16 L340.62 167.5 L341.9 166.28 L343.12 165 L344.86 164.08 L346.42 162.94 L347.5 161.25 L349.22 160.07 L351.37 159.47 L352.5 157.5 L353.57 156.2 L355.21 155.54 L356.54 154.55 L357.5 153.12 L359.72 152.62 L360.6 150.31 L362.5 149.38 L364.51 148.88 L365.78 147.21 L367.5 146.25 L369.59 145.88 L370.54 143.7 L372.5 143.12 L374.27 142.49 L375.9 141.58 L377.5 140.62 L379.36 140.52 L380.82 139.34 L382.5 138.75 L384.42 138.26 L386.25 137.5 L387.2 139.27 L386.88 141.25 L388.12 143.75 L389.28 145.35 L391.25 145.25 L392.63 146.18 L394 147.12 L392.8 145.79 L392.75 144 L393.86 142.73 L395 141.5 L396.79 140.91 L398.57 140.31 L400 139 L401.92 139.15 L403.22 137.51 L405 137.25 L406.57 136.46 L408.4 136.68 L410 136 L411.72 135.95 L413.27 135.01 L415 135 L413.1 135.51 L411.44 135.07 L410 133.75 L408.28 133.99 L406.78 132.4 L405 133.12 L403.12 132.89 L401.25 133.07 L399.38 133.31 L397.5 133.12 L395.62 132.96 L393.75 132.92 L391.88 133.75 L390 133.12 L388.07 132.62 L386.17 132.54 L384.41 133.98 L382.5 133.75 L380.35 133.29 L378.36 134.41 L376.25 134.38 L373.75 136.25 L372.32 135.28 L370.62 135 L372.23 133.1 L372.5 130.62 L373.86 129.48 L375.55 128.68 L376.25 126.88 L376.8 124.76 L378.75 123.75 L379.24 121.58 L381.25 120.62 L382.37 119.09 L381.88 117.25 L380.8 115.38 L379.75 113.5 L377.82 112.23 L377.25 110 L376.25 109.38 L376.77 111.74 L378.75 113.12 L378.82 115.43 L380.62 116.88 L380.27 118.79 L378.75 120 L377.35 121.44 L376.25 123.12 L374.23 123.77 L372.5 125 L370.7 126.57 L368.5 127.5 L366.25 127.31 L364.69 129.36 L362.5 129.38 L360.44 129.42 L359.53 131.77 L357.5 131.88 L355.48 132.35 L354.1 133.86 L352.5 135 L350.52 135.2 L349.31 136.96 L347.5 137.5 L345.89 138.44 L344.26 139.35 L342.5 140 L340.5 139.74 L338.75 138.75 L338.45 136.77 L339.38 135 L338.75 132.5 L336.25 133.75 L334.62 135.37 L333.75 137.5 L332.34 138.35 L330.62 138.83 L330 140.62 L328.08 140.58 L326.78 142.18 L325 142.5 L323.41 143.22 L321.65 143.28 L320 143.75 L320 145 L318.11 145.46 L316.38 145.32 L315 143.75 L313.22 142.85 L311.25 142.5 L309.66 143.98 L307.5 143.75 L307.88 145.71 L308.75 147.5 L307.99 149.24 L306.25 150 L306.15 151.87 L307.46 152.8 L308.75 153.75 L307.11 154 L305.98 155.02 L305 156.25 L303.3 157.39 L301.25 157.5 L300.49 159.07 L299.46 160.24 L297.5 160 L296.03 161.85 L293.75 161.25 L291.69 161.33 L290 162.5 L288.09 163.02 L286.25 163.75 L285.77 165.23 L284.58 166.25 L283.75 167.5 L282.25 168.66 L280.44 169.21 L278.75 170 L277.01 169.91 L276.34 168.2 L275 167.5 L273.36 166.99 L271.96 165.48 L270 166.25 L268.28 167.03 L267.5 168.75 L266 169.55 L264.88 170.61 L265 172.5 L263.1 171.95 L261.25 171.25 L260.89 169.11 L258.75 168.75 L259.42 166.97 L258.03 165.45 L258.12 163.75 L257.51 165.24 L256.25 166.25 L256.13 168.27 L255.13 169.55 L253.12 170 L251.07 171.04 L251.47 173.6 L250 175 L250.48 176.72 L248.33 177.92 L248.56 179.59 L248.75 181.25 L246.75 181.75 L246.79 184.29 L245 185 L242.5 183.75 L240 182.5 L239.45 183.94 L238.36 185.02 L237.5 186.25 L235.62 188.12 L236.11 186.4 L235 185 L233.2 185.84 L231.25 186.25 L230.3 185.01 L229.38 183.75 L227.5 185 L227.57 186.57 L228.91 188.02 L228.12 189.67 L228.12 191.25 L226.88 193.12 L226.69 191.54 L226.25 190 L224.38 191.5 L222.12 191 L222.12 191.25 L218.75 193.12 L216.25 195.62 L215 198.75 L212.5 201.25 L211.25 205 L209.6 206.58 L207.5 207.5 L206.31 209.25 L205.62 211.25 L204.34 212.95 L203.75 215 L201.25 218.12 L200.57 220.42 L199.38 222.5 L198.12 225.62 L198.65 227.84 L199.38 230 L201.88 233.12 L204.38 233.75 L202.5 235.62 L198.75 236.88 L196.88 239.38 L194.38 241.88 L191.88 244.38 L193.12 246.88 L196.25 246.88 L198.75 248.75 L200.14 250.2 L201.25 251.88 L203.12 255 L203.12 258.12 L205.62 260 L206.88 263.75 L209.38 265.62 L211.51 266.44 L213.75 266.88 L217.5 265.62 L221.25 264.38 L221.5 261.88 L220.25 258.75 L218.12 256 L215.25 254.75 L216.25 253.5 L219.38 254.38 L221.88 257.5 L222.96 259.3 L223.75 261.25 L224.62 265 L224.38 268.75 L221.88 269.38 L219.72 269.92 L217.5 270 L213.75 271.25 L210 272.5 L206.25 273.12 L203.75 273.75 L203.78 271.64 L203.56 269.56 L203.12 267.5 L200 269.38 L197.5 270.62 L195 272.5 L193.12 275 L190 274.38 L189.25 272.25 L189.38 270 L188.12 267.5 L186.88 269.38 L185 271.88 L184.52 274.11 L183.75 276.25 L180.62 277.5 L180 279.38 L177.55 280.2 L175 280.62 L172.42 280.73 L170 281.62 L167.75 281.88 L166.5 282ZM395 92.5 L397.64 92.42 L400 91.25 L402.53 90.79 L405 91.5 L407.5 91.25 L409.93 92.15 L412.5 92.5 L415.14 93.06 L417.5 94.38 L419.8 95.86 L422.5 96.25 L424.61 95.75 L426.65 96.87 L428.75 96.5 L430.97 96.34 L433.2 96.17 L435.41 95.97 L437.5 95 L439.36 94.63 L441.24 94.68 L443.13 95.06 L445 94.75 L446.86 94.39 L448.74 94.28 L450.61 94.15 L452.5 94.38 L454.43 95.11 L456.5 95 L454.26 95.87 L452.5 97.5 L449.87 98.11 L447.5 99.38 L445.81 100.91 L443.75 101.88 L441.65 102.36 L440 103.75 L438.75 106.25 L440.31 107.2 L441.88 108.12 L442.5 110.62 L440.8 112.14 L438.75 113.12 L436.25 113.17 L433.75 113.12 L431.83 112.27 L430 111.25 L428.75 108.75 L426.88 109.38 L427.5 106.25 L425 103.75 L423.35 105.14 L421.25 105.62 L418.75 105 L416.9 104.3 L415 103.75 L413.03 102.64 L411.25 101.25 L409.39 100.85 L407.5 100.62 L406.21 99.24 L404.38 98.75 L403.75 96.25 L401.85 96.39 L400 96.88 L397.49 96.68 L395 96.25 L393.75 94.38ZM483.75 91.25 L483.09 93 L482.11 94.6 L481.25 96.25 L480.41 97.87 L479.44 99.41 L478.55 101 L477.5 102.5 L475.7 103.57 L474.37 105.27 L472.5 106.25 L471.09 108.34 L470 110.62 L470.89 112.42 L470.69 114.34 L470.62 116.25 L471.47 118.69 L471.88 121.25 L473.26 122.9 L473.75 125 L475.41 126.82 L477.5 128.12 L479.29 127.25 L481.25 126.88 L483.75 128.12 L483.12 130 L485.62 130.62 L487.5 128.12 L486.25 126.25 L488.25 126.01 L490 125 L491.52 126.78 L493.75 127.5 L496.17 126.54 L498.75 126.25 L501.04 125.93 L503.08 124.98 L505 123.75 L506.77 123.13 L508.04 121.49 L510 121.25 L511.2 119.65 L512.5 118.12 L514.45 117.34 L516.25 116.25 L517.61 114.48 L519.38 113.12 L518.11 111.76 L517.5 110 L520 107.5 L517.5 105 L515.58 104.95 L513.75 104.38 L511.25 102.5 L508.12 103.75 L506.89 102.36 L506.25 100.62 L504.44 99.91 L502.5 100 L500 101.25 L500.42 99.31 L501.25 97.5 L501.77 94.97 L502.5 92.5 L502.5 91.25ZM492.5 109.38 L495 110 L498.12 111.25 L501.88 112.75 L498.75 115 L496.25 116.25 L493.75 119.38 L491.25 122.5 L487.5 121.88 L483.75 122.5 L481.88 121.88 L483.75 118.75 L486.5 117.75 L483.75 116.25 L481.88 114.38 L486.25 113.12 L490 111.25ZM197.5 280.25 L201.25 277.75 L205 276.25 L207.5 279.38 L203.75 280.62 L200 281.5ZM216 283.12 L219.75 282.12 L221.25 279.38 L222.75 283.75 L218.75 284.62ZM313.5 160.62 L315 156.25 L316.88 155.62 L316.25 158.75 L314.38 161.5ZM268.75 171.25 L271.25 168.75 L273.75 170 L273.12 173.12 L270.62 174.38ZM260 176.25 L261.88 174.38 L263.12 175.62 L261.25 178.12ZM254.38 180.62 L256.25 180 L258.12 181.5 L256.25 182.5ZM335 136.25 L336.88 134.38 L338.75 132.5 L339.38 134.75 L337.5 136.88 L335.62 138.12Z"/>
<path class="coast" d="M330 174.38 L331.88 171.25 L333.12 170.62"/>
<path class="coast" d="M334 169 L337.5 165.62 L340.62 163.5 L343.12 163.75 L341.25 165.62 L337.5 168.12 L334.75 170"/>
<path class="coast" d="M345.62 161.25 L350 158.5 L355.62 156.25 L352.5 158.75 L348.12 161.5"/>
<path class="coast" d="M496.88 103.75 L500 101.88 L503.12 100.62"/>
<path class="coast" d="M495.62 108.12 L500 105.62 L505 103.12"/>
<path class="coast" d="M496.88 109.38 L502.5 106.25 L506.25 103.75"/>
<path class="bord" d="M221.25 91.25 L218.75 96.25 L215 100 L213.75 105 L215 110 L214.38 114.38 L210.62 118.12 L210 121.25 L206.25 123.12 L202.5 126.88 L200.62 130 L203.12 132.5 L200 133.12 L197.5 135 L196.25 139.38 L193.75 135.62 L190 136.88 L186.25 138.12 L183.12 137.5 L180.62 140 L178.75 145 L178.12 147.5 L178.75 150 L176.25 155 L174.38 158.75 L176.25 162.5 L175.62 166.25 L171.88 169.38 L167.75 171.25"/>
<path class="bord" d="M167.75 147.12 L178.12 147.12"/>
<path class="bord" d="M190 136.88 L190.62 147.5 L191.88 162.5 L192.75 178.75 L193.75 193.75 L193.5 205 L195 208.75 L198.75 213 L196.25 211.25 L198.75 216.25 L200.62 217.5"/>
<path class="bord" d="M286.88 91.25 L286.88 103.75 L287.5 113.75 L286.25 117.5 L286.88 122.5 L291.25 125 L296.88 126.25 L295.62 130 L296.88 135 L297.5 138.75 L300 141.88 L303.75 142.5 L305.62 141.25 L307.5 143.75"/>
<path class="bord" d="M167.75 230.88 L184.38 230.88 L188.75 227.5 L193.75 225 L198.12 224.38"/>
<path class="bord" d="M167.75 255.62 L170 256.88 L181.88 256.88 L182.5 261.25 L184.38 265 L186.88 267.5"/>
<path class="bord" d="M170 256.88 L170 277.5 L167.75 278.75"/>
</g>
<g stroke="#eef294" stroke-width="1.3" stroke-dasharray="4.3 2.7" fill="none">
<line x1="222.03" y1="91.0" x2="222.03" y2="939.0" stroke-dashoffset="0.73"/>
<line x1="368.21" y1="91.0" x2="368.21" y2="939.0" stroke-dashoffset="0.73"/>
<line x1="514.39" y1="91.0" x2="514.39" y2="939.0" stroke-dashoffset="0.73"/>
<line x1="660.57" y1="91.0" x2="660.57" y2="939.0" stroke-dashoffset="0.73"/>
<line x1="806.75" y1="91.0" x2="806.75" y2="939.0" stroke-dashoffset="0.73"/>
<line x1="952.93" y1="91.0" x2="952.93" y2="939.0" stroke-dashoffset="0.73"/>
<line x1="167.25" y1="148.25" x2="1054.25" y2="148.25" stroke-dashoffset="1.2"/>
<line x1="167.25" y1="329.85" x2="1054.25" y2="329.85" stroke-dashoffset="1.2"/>
<line x1="167.25" y1="511.4" x2="1054.25" y2="511.4" stroke-dashoffset="1.2"/>
<line x1="167.25" y1="692.95" x2="1054.25" y2="692.95" stroke-dashoffset="1.2"/>
<line x1="167.25" y1="874.5" x2="1054.25" y2="874.5" stroke-dashoffset="1.2"/>
</g>
<rect x="223.2" y="808.2" width="9.6" height="9.6" fill="#000"/>
<rect x="237.7" y="811.7" width="9.6" height="9.6" fill="#000"/>
<rect x="199.7" y="837.2" width="9.6" height="9.6" fill="#000"/>
<g fill="#fa3c3c" stroke="#fa3c3c">
<polyline class="trk" points="228,813 236.25,751 248.5,696.7 304,649.3 371.25,598.75 455.5,580.5 552.25,569.5 634.25,573 686.75,587.5 704.5,591.25 698.75,584.25 683.75,547.75 669.5,504 675.75,486.25 687,493 710.5,508 730.75,540.75 762.75,551.25 751.25,591.25 727.6,653 689.75,692.9"/>
<circle cx="236.25" cy="751" r="3.05" fill="none" stroke-width="1.2"/>
<circle cx="248.5" cy="696.7" r="3" stroke="none"/>
<circle cx="304" cy="649.3" r="3.05" fill="none" stroke-width="1.2"/>
<circle cx="371.25" cy="598.75" r="3" stroke="none"/>
<circle cx="455.5" cy="580.5" r="3.05" fill="none" stroke-width="1.2"/>
<circle cx="552.25" cy="569.5" r="3" stroke="none"/>
<circle cx="634.25" cy="573" r="3.05" fill="none" stroke-width="1.2"/>
<circle cx="686.75" cy="587.5" r="3" stroke="none"/>
<circle cx="704.5" cy="591.25" r="3.05" fill="none" stroke-width="1.2"/>
<circle cx="698.75" cy="584.25" r="3" stroke="none"/>
<circle cx="683.75" cy="547.75" r="3.05" fill="none" stroke-width="1.2"/>
<circle cx="669.5" cy="504" r="3" stroke="none"/>
<circle cx="675.75" cy="486.25" r="3.05" fill="none" stroke-width="1.2"/>
<circle cx="687" cy="493" r="3" stroke="none"/>
<circle cx="710.5" cy="508" r="3.05" fill="none" stroke-width="1.2"/>
<circle cx="730.75" cy="540.75" r="3" stroke="none"/>
<circle cx="762.75" cy="551.25" r="3.05" fill="none" stroke-width="1.2"/>
<circle cx="751.25" cy="591.25" r="3" stroke="none"/>
<circle cx="727.6" cy="653" r="3.05" fill="none" stroke-width="1.2"/>
<circle cx="689.75" cy="692.9" r="3" stroke="none"/>
<text class="nm" x="671.9" y="688.2" textLength="35.9" lengthAdjust="spacingAndGlyphs">EMX</text>
</g>
<text class="hr" x="241.45" y="712.6" textLength="14.3" lengthAdjust="spacing">24</text>
<text class="hr" x="364.2" y="614.65" textLength="14.3" lengthAdjust="spacing">48</text>
<text class="hr" x="545.2" y="585.4" textLength="14.3" lengthAdjust="spacing">72</text>
<text class="hr" x="679.7" y="603.4" textLength="14.3" lengthAdjust="spacing">96</text>
<text class="hr" x="689.25" y="600.15" textLength="21" lengthAdjust="spacing">120</text>
<text class="hr" x="660" y="519.9" textLength="21" lengthAdjust="spacing">144</text>
<text class="hr" x="677.5" y="508.9" textLength="21" lengthAdjust="spacing">168</text>
<text class="hr" x="721.25" y="556.65" textLength="21" lengthAdjust="spacing">192</text>
<text class="hr" x="740.85" y="607.15" textLength="21" lengthAdjust="spacing">216</text>
<text class="hr" x="679.35" y="708.8" textLength="21" lengthAdjust="spacing">240</text>
<g fill="#00dc00" stroke="#00dc00">
<polyline class="trk" points="204.5,842 195.8,805.2 204.5,729.3"/>
<circle cx="195.8" cy="805.2" r="3.05" fill="none" stroke-width="1.2"/>
<circle cx="204.5" cy="729.3" r="3" stroke="none"/>
<text class="nm" x="186.65" y="724.6" textLength="35.9" lengthAdjust="spacingAndGlyphs">NGX</text>
</g>
<text class="hr" x="197.45" y="745.2" textLength="14.3" lengthAdjust="spacing">24</text>
<g fill="#1e3cff" stroke="#1e3cff">
<polyline class="trk" points="242.5,816.5 256.5,757 291.6,686.4 353.75,623.75 428.75,573 523.25,540.5 643,519 765.75,496.9 853.5,486.25 868,464.25 865.25,435"/>
<circle cx="256.5" cy="757" r="3.05" fill="none" stroke-width="1.2"/>
<circle cx="291.6" cy="686.4" r="3" stroke="none"/>
<circle cx="353.75" cy="623.75" r="3.05" fill="none" stroke-width="1.2"/>
<circle cx="428.75" cy="573" r="3" stroke="none"/>
<circle cx="523.25" cy="540.5" r="3.05" fill="none" stroke-width="1.2"/>
<circle cx="643" cy="519" r="3" stroke="none"/>
<circle cx="765.75" cy="496.9" r="3.05" fill="none" stroke-width="1.2"/>
<circle cx="853.5" cy="486.25" r="3" stroke="none"/>
<circle cx="868" cy="464.25" r="3.05" fill="none" stroke-width="1.2"/>
<circle cx="865.25" cy="435" r="3" stroke="none"/>
<text class="nm" x="843.05" y="430.3" textLength="44.6" lengthAdjust="spacingAndGlyphs">A90E</text>
</g>
<text class="hr" x="284.55" y="702.3" textLength="14.3" lengthAdjust="spacing">24</text>
<text class="hr" x="421.7" y="588.9" textLength="14.3" lengthAdjust="spacing">48</text>
<text class="hr" x="635.95" y="534.9" textLength="14.3" lengthAdjust="spacing">72</text>
<text class="hr" x="846.45" y="502.15" textLength="14.3" lengthAdjust="spacing">96</text>
<text class="hr" x="855.75" y="450.9" textLength="21" lengthAdjust="spacing">120</text>
<g fill="#00c8c8" stroke="#00c8c8">
<polyline class="trk" points="242.5,816.5 256.5,757 291.6,686.4 353.75,623.75 428.75,573 523.25,540.5 643,519 768.75,493 856.25,482 871.25,456.75 868.25,431.5"/>
<circle cx="256.5" cy="757" r="3.05" fill="none" stroke-width="1.2"/>
<circle cx="291.6" cy="686.4" r="3" stroke="none"/>
<circle cx="353.75" cy="623.75" r="3.05" fill="none" stroke-width="1.2"/>
<circle cx="428.75" cy="573" r="3" stroke="none"/>
<circle cx="523.25" cy="540.5" r="3.05" fill="none" stroke-width="1.2"/>
<circle cx="643" cy="519" r="3" stroke="none"/>
<circle cx="768.75" cy="493" r="3.05" fill="none" stroke-width="1.2"/>
<circle cx="856.25" cy="482" r="3" stroke="none"/>
<circle cx="871.25" cy="456.75" r="3.05" fill="none" stroke-width="1.2"/>
<circle cx="868.25" cy="431.5" r="3" stroke="none"/>
<text class="nm" x="846.05" y="426.8" textLength="44.6" lengthAdjust="spacingAndGlyphs">A98E</text>
</g>
<text class="hr" x="284.55" y="702.3" textLength="14.3" lengthAdjust="spacing">24</text>
<text class="hr" x="421.7" y="588.9" textLength="14.3" lengthAdjust="spacing">48</text>
<text class="hr" x="635.95" y="534.9" textLength="14.3" lengthAdjust="spacing">72</text>
<text class="hr" x="849.2" y="497.9" textLength="14.3" lengthAdjust="spacing">96</text>
<text class="hr" x="858.75" y="447.4" textLength="21" lengthAdjust="spacing">120</text>
<g fill="#f00082" stroke="#f00082">
<polyline class="trk" points="242.5,816.5 256,756 286.5,675 333.25,612.75 420.5,558.25 531.75,533.25 695.5,493"/>
<circle cx="256" cy="756" r="3.05" fill="none" stroke-width="1.2"/>
<circle cx="286.5" cy="675" r="3" stroke="none"/>
<circle cx="333.25" cy="612.75" r="3.05" fill="none" stroke-width="1.2"/>
<circle cx="420.5" cy="558.25" r="3" stroke="none"/>
<circle cx="531.75" cy="533.25" r="3.05" fill="none" stroke-width="1.2"/>
<circle cx="695.5" cy="493" r="3" stroke="none"/>
<text class="nm" x="672.15" y="488.3" textLength="46.9" lengthAdjust="spacingAndGlyphs">A9UK</text>
</g>
<text class="hr" x="279.45" y="690.9" textLength="14.3" lengthAdjust="spacing">24</text>
<text class="hr" x="413.45" y="574.15" textLength="14.3" lengthAdjust="spacing">48</text>
<text class="hr" x="688.45" y="508.9" textLength="14.3" lengthAdjust="spacing">72</text>
<g fill="#e6dc32" stroke="#e6dc32">
<polyline class="trk" points="242.5,816.5 251.5,754.4 287.5,675.5 339,616.75 423.75,562.25 537.5,508 718.75,453 920.75,413.25 1026.25,431.25 1011.5,453.25 976.5,442.5"/>
<circle cx="251.5" cy="754.4" r="3.05" fill="none" stroke-width="1.2"/>
<circle cx="287.5" cy="675.5" r="3" stroke="none"/>
<circle cx="339" cy="616.75" r="3.05" fill="none" stroke-width="1.2"/>
<circle cx="423.75" cy="562.25" r="3" stroke="none"/>
<circle cx="537.5" cy="508" r="3.05" fill="none" stroke-width="1.2"/>
<circle cx="718.75" cy="453" r="3" stroke="none"/>
<circle cx="920.75" cy="413.25" r="3.05" fill="none" stroke-width="1.2"/>
<circle cx="1026.25" cy="431.25" r="3" stroke="none"/>
<circle cx="1011.5" cy="453.25" r="3.05" fill="none" stroke-width="1.2"/>
<circle cx="976.5" cy="442.5" r="3" stroke="none"/>
<text class="nm" x="952.25" y="437.8" textLength="48.7" lengthAdjust="spacingAndGlyphs">BAMD</text>
</g>
<text class="hr" x="280.45" y="691.4" textLength="14.3" lengthAdjust="spacing">24</text>
<text class="hr" x="416.7" y="578.15" textLength="14.3" lengthAdjust="spacing">48</text>
<text class="hr" x="711.7" y="468.9" textLength="14.3" lengthAdjust="spacing">72</text>
<text class="hr" x="1019.2" y="447.15" textLength="14.3" lengthAdjust="spacing">96</text>
<text class="hr" x="967" y="458.4" textLength="21" lengthAdjust="spacing">120</text>
<g fill="#f08228" stroke="#f08228">
<polyline class="trk" points="242.5,816.5 254.4,761.7 280.6,700 339.2,649.2 403.25,616.75 476.25,598.25 546.5,587.75 590.5,591.5 596.25,580.5 605.25,558.25 619.75,551.25"/>
<circle cx="254.4" cy="761.7" r="3.05" fill="none" stroke-width="1.2"/>
<circle cx="280.6" cy="700" r="3" stroke="none"/>
<circle cx="339.2" cy="649.2" r="3.05" fill="none" stroke-width="1.2"/>
<circle cx="403.25" cy="616.75" r="3" stroke="none"/>
<circle cx="476.25" cy="598.25" r="3.05" fill="none" stroke-width="1.2"/>
<circle cx="546.5" cy="587.75" r="3" stroke="none"/>
<circle cx="590.5" cy="591.5" r="3.05" fill="none" stroke-width="1.2"/>
<circle cx="596.25" cy="580.5" r="3" stroke="none"/>
<circle cx="605.25" cy="558.25" r="3.05" fill="none" stroke-width="1.2"/>
<circle cx="619.75" cy="551.25" r="3" stroke="none"/>
<text class="nm" x="594.9" y="546.55" textLength="49.9" lengthAdjust="spacingAndGlyphs">BAMM</text>
</g>
<text class="hr" x="273.55" y="715.9" textLength="14.3" lengthAdjust="spacing">24</text>
<text class="hr" x="396.2" y="632.65" textLength="14.3" lengthAdjust="spacing">48</text>
<text class="hr" x="539.45" y="603.65" textLength="14.3" lengthAdjust="spacing">72</text>
<text class="hr" x="589.2" y="596.4" textLength="14.3" lengthAdjust="spacing">96</text>
<text class="hr" x="610.25" y="567.15" textLength="21" lengthAdjust="spacing">120</text>
<g fill="#a000c8" stroke="#a000c8">
<polyline class="trk" points="242.5,816.5 245.4,761.8 265.9,707.25 315.4,667 377,653 444.2,656.5 491,678.5 520.4,692.75 520,707.5 505.6,729.6"/>
<circle cx="245.4" cy="761.8" r="3.05" fill="none" stroke-width="1.2"/>
<circle cx="265.9" cy="707.25" r="3" stroke="none"/>
<circle cx="315.4" cy="667" r="3.05" fill="none" stroke-width="1.2"/>
<circle cx="377" cy="653" r="3" stroke="none"/>
<circle cx="444.2" cy="656.5" r="3.05" fill="none" stroke-width="1.2"/>
<circle cx="491" cy="678.5" r="3" stroke="none"/>
<circle cx="520.4" cy="692.75" r="3.05" fill="none" stroke-width="1.2"/>
<circle cx="520" cy="707.5" r="3" stroke="none"/>
<circle cx="505.6" cy="729.6" r="3" stroke="none"/>
<text class="nm" x="481.65" y="723.7" textLength="48.1" lengthAdjust="spacingAndGlyphs">BAMS</text>
</g>
<text class="hr" x="258.85" y="723.15" textLength="14.3" lengthAdjust="spacing">24</text>
<text class="hr" x="369.95" y="668.9" textLength="14.3" lengthAdjust="spacing">48</text>
<text class="hr" x="483.95" y="694.4" textLength="14.3" lengthAdjust="spacing">72</text>
<text class="hr" x="512.95" y="723.4" textLength="14.3" lengthAdjust="spacing">96</text>
<text class="hr" x="496.1" y="745.5" textLength="21" lengthAdjust="spacing">120</text>
<g fill="#a0e632" stroke="#a0e632">
<polyline class="trk" points="242.5,816.5 255.9,743.3 283.1,674.75 321.75,606.25 371.25,543.75 494,416.75"/>
<circle cx="255.9" cy="743.3" r="3.05" fill="none" stroke-width="1.2"/>
<circle cx="283.1" cy="674.75" r="3" stroke="none"/>
<circle cx="321.75" cy="606.25" r="3.05" fill="none" stroke-width="1.2"/>
<circle cx="371.25" cy="543.75" r="3" stroke="none"/>
<circle cx="494" cy="416.75" r="3" stroke="none"/>
<text class="nm" x="474.95" y="412.05" textLength="38.3" lengthAdjust="spacingAndGlyphs">CLIP</text>
</g>
<text class="hr" x="276.05" y="690.65" textLength="14.3" lengthAdjust="spacing">24</text>
<text class="hr" x="364.2" y="559.65" textLength="14.3" lengthAdjust="spacing">48</text>
<text class="hr" x="486.95" y="432.65" textLength="14.3" lengthAdjust="spacing">72</text>
<g fill="#00a0ff" stroke="#00a0ff">
<polyline class="trk" points="242.5,816.5 259.75,739.9 286.5,675.1 315.5,609.5 350.5,562.25 385.5,507.5 420.5,457 458.75,413 499.5,380.75 546.25,337 593,293"/>
<circle cx="259.75" cy="739.9" r="3.05" fill="none" stroke-width="1.2"/>
<circle cx="286.5" cy="675.1" r="3" stroke="none"/>
<circle cx="315.5" cy="609.5" r="3.05" fill="none" stroke-width="1.2"/>
<circle cx="350.5" cy="562.25" r="3" stroke="none"/>
<circle cx="385.5" cy="507.5" r="3.05" fill="none" stroke-width="1.2"/>
<circle cx="420.5" cy="457" r="3" stroke="none"/>
<circle cx="458.75" cy="413" r="3.05" fill="none" stroke-width="1.2"/>
<circle cx="499.5" cy="380.75" r="3" stroke="none"/>
<circle cx="546.25" cy="337" r="3.05" fill="none" stroke-width="1.2"/>
<circle cx="593" cy="293" r="3" stroke="none"/>
<text class="nm" x="570.4" y="287.8" textLength="45.4" lengthAdjust="spacingAndGlyphs">CLP5</text>
</g>
<text class="hr" x="279.45" y="691" textLength="14.3" lengthAdjust="spacing">24</text>
<text class="hr" x="343.45" y="578.15" textLength="14.3" lengthAdjust="spacing">48</text>
<text class="hr" x="413.45" y="472.9" textLength="14.3" lengthAdjust="spacing">72</text>
<text class="hr" x="492.45" y="396.65" textLength="14.3" lengthAdjust="spacing">96</text>
<text class="hr" x="583.5" y="308.9" textLength="21" lengthAdjust="spacing">120</text>
<g fill="#e6af2d" stroke="#e6af2d">
<polyline class="trk" points="242.5,816.5 239.9,751 251,678.4 277.5,624 336,584 412,544 482,522 535,507.5 569.9,496.6 596,482 616.6,467.5"/>
<circle cx="239.9" cy="751" r="3.05" fill="none" stroke-width="1.2"/>
<circle cx="251" cy="678.4" r="3" stroke="none"/>
<circle cx="277.5" cy="624" r="3.05" fill="none" stroke-width="1.2"/>
<circle cx="336" cy="584" r="3" stroke="none"/>
<circle cx="412" cy="544" r="3.05" fill="none" stroke-width="1.2"/>
<circle cx="482" cy="522" r="3" stroke="none"/>
<circle cx="535" cy="507.5" r="3.05" fill="none" stroke-width="1.2"/>
<circle cx="569.9" cy="496.6" r="3" stroke="none"/>
<circle cx="596" cy="482" r="3.05" fill="none" stroke-width="1.2"/>
<circle cx="616.6" cy="467.5" r="3" stroke="none"/>
<text class="nm" x="591.8" y="462.8" textLength="49.8" lengthAdjust="spacingAndGlyphs">CONU</text>
</g>
<text class="hr" x="243.95" y="694.3" textLength="14.3" lengthAdjust="spacing">24</text>
<text class="hr" x="328.95" y="599.9" textLength="14.3" lengthAdjust="spacing">48</text>
<text class="hr" x="474.95" y="537.9" textLength="14.3" lengthAdjust="spacing">72</text>
<text class="hr" x="562.85" y="512.5" textLength="14.3" lengthAdjust="spacing">96</text>
<text class="hr" x="607.1" y="483.4" textLength="21" lengthAdjust="spacing">120</text>
<g fill="#00d28c" stroke="#00d28c">
<polyline class="trk" points="242.5,816.5 254.4,761.7 280.6,700 339.2,649.2 403.25,616.75 476.25,598.25 546.5,587.75 590.5,591.5 596.25,580.5 605.25,558.25 619.75,551.25"/>
<circle cx="254.4" cy="761.7" r="3.05" fill="none" stroke-width="1.2"/>
<circle cx="280.6" cy="700" r="3" stroke="none"/>
<circle cx="339.2" cy="649.2" r="3.05" fill="none" stroke-width="1.2"/>
<circle cx="403.25" cy="616.75" r="3" stroke="none"/>
<circle cx="476.25" cy="598.25" r="3.05" fill="none" stroke-width="1.2"/>
<circle cx="546.5" cy="587.75" r="3" stroke="none"/>
<circle cx="590.5" cy="591.5" r="3.05" fill="none" stroke-width="1.2"/>
<circle cx="596.25" cy="580.5" r="3" stroke="none"/>
<circle cx="605.25" cy="558.25" r="3.05" fill="none" stroke-width="1.2"/>
<circle cx="619.75" cy="551.25" r="3" stroke="none"/>
<text class="nm" x="595.85" y="546.55" textLength="48" lengthAdjust="spacingAndGlyphs">DSHP</text>
</g>
<text class="hr" x="273.55" y="715.9" textLength="14.3" lengthAdjust="spacing">24</text>
<text class="hr" x="396.2" y="632.65" textLength="14.3" lengthAdjust="spacing">48</text>
<text class="hr" x="539.45" y="603.65" textLength="14.3" lengthAdjust="spacing">72</text>
<text class="hr" x="589.2" y="596.4" textLength="14.3" lengthAdjust="spacing">96</text>
<text class="hr" x="610.25" y="567.15" textLength="21" lengthAdjust="spacing">120</text>
<g fill="#8200dc" stroke="#8200dc">
<polyline class="trk" points="242.5,816.5 254.4,761.7 280.6,700 339.2,649.2 403.25,616.75 476.25,598.25 546.5,587.75 590.5,591.5 596.25,580.5 605.25,558.25 619.75,551.25"/>
<circle cx="254.4" cy="761.7" r="3.05" fill="none" stroke-width="1.2"/>
<circle cx="280.6" cy="700" r="3" stroke="none"/>
<circle cx="339.2" cy="649.2" r="3.05" fill="none" stroke-width="1.2"/>
<circle cx="403.25" cy="616.75" r="3" stroke="none"/>
<circle cx="476.25" cy="598.25" r="3.05" fill="none" stroke-width="1.2"/>
<circle cx="546.5" cy="587.75" r="3" stroke="none"/>
<circle cx="590.5" cy="591.5" r="3.05" fill="none" stroke-width="1.2"/>
<circle cx="596.25" cy="580.5" r="3" stroke="none"/>
<circle cx="605.25" cy="558.25" r="3.05" fill="none" stroke-width="1.2"/>
<circle cx="619.75" cy="551.25" r="3" stroke="none"/>
<text class="nm" x="595.85" y="546.55" textLength="48" lengthAdjust="spacingAndGlyphs">DSNS</text>
</g>
<text class="hr" x="273.55" y="715.9" textLength="14.3" lengthAdjust="spacing">24</text>
<text class="hr" x="396.2" y="632.65" textLength="14.3" lengthAdjust="spacing">48</text>
<text class="hr" x="539.45" y="603.65" textLength="14.3" lengthAdjust="spacing">72</text>
<text class="hr" x="589.2" y="596.4" textLength="14.3" lengthAdjust="spacing">96</text>
<text class="hr" x="610.25" y="567.15" textLength="21" lengthAdjust="spacing">120</text>
<g fill="#fa3c3c" stroke="#fa3c3c">
<polyline class="trk" points="242.5,816.5 257.8,758.3 283.5,704 321.5,653 371.25,605.5 429.5,544 505.25,475 601.9,420.9 710.25,355 800.75,268 920.5,187.75"/>
<circle cx="257.8" cy="758.3" r="3.05" fill="none" stroke-width="1.2"/>
<circle cx="283.5" cy="704" r="3" stroke="none"/>
<circle cx="321.5" cy="653" r="3.05" fill="none" stroke-width="1.2"/>
<circle cx="371.25" cy="605.5" r="3" stroke="none"/>
<circle cx="429.5" cy="544" r="3.05" fill="none" stroke-width="1.2"/>
<circle cx="505.25" cy="475" r="3" stroke="none"/>
<circle cx="601.9" cy="420.9" r="3.05" fill="none" stroke-width="1.2"/>
<circle cx="710.25" cy="355" r="3" stroke="none"/>
<circle cx="800.75" cy="268" r="3.05" fill="none" stroke-width="1.2"/>
<circle cx="920.5" cy="187.75" r="3" stroke="none"/>
<text class="nm" x="898.25" y="183.05" textLength="44.7" lengthAdjust="spacingAndGlyphs">LBAR</text>
</g>
<text class="hr" x="276.45" y="719.9" textLength="14.3" lengthAdjust="spacing">24</text>
<text class="hr" x="364.2" y="621.4" textLength="14.3" lengthAdjust="spacing">48</text>
<text class="hr" x="498.2" y="490.9" textLength="14.3" lengthAdjust="spacing">72</text>
<text class="hr" x="703.2" y="370.9" textLength="14.3" lengthAdjust="spacing">96</text>
<text class="hr" x="911" y="203.65" textLength="21" lengthAdjust="spacing">120</text>
<g fill="#00dc00" stroke="#00dc00">
<polyline class="trk" points="242.5,816.5 254.4,761.7 280.6,700 339.2,649.2 403.25,616.75 476.25,598.25 546.5,587.75 590.5,591.5 596.25,580.5 605.25,558.25 619.75,551.25"/>
<circle cx="254.4" cy="761.7" r="3.05" fill="none" stroke-width="1.2"/>
<circle cx="280.6" cy="700" r="3" stroke="none"/>
<circle cx="339.2" cy="649.2" r="3.05" fill="none" stroke-width="1.2"/>
<circle cx="403.25" cy="616.75" r="3" stroke="none"/>
<circle cx="476.25" cy="598.25" r="3.05" fill="none" stroke-width="1.2"/>
<circle cx="546.5" cy="587.75" r="3" stroke="none"/>
<circle cx="590.5" cy="591.5" r="3.05" fill="none" stroke-width="1.2"/>
<circle cx="596.25" cy="580.5" r="3" stroke="none"/>
<circle cx="605.25" cy="558.25" r="3.05" fill="none" stroke-width="1.2"/>
<circle cx="619.75" cy="551.25" r="3" stroke="none"/>
<text class="nm" x="599.6" y="546.55" textLength="40.5" lengthAdjust="spacingAndGlyphs">SHIP</text>
</g>
<text class="hr" x="273.55" y="715.9" textLength="14.3" lengthAdjust="spacing">24</text>
<text class="hr" x="396.2" y="632.65" textLength="14.3" lengthAdjust="spacing">48</text>
<text class="hr" x="539.45" y="603.65" textLength="14.3" lengthAdjust="spacing">72</text>
<text class="hr" x="589.2" y="596.4" textLength="14.3" lengthAdjust="spacing">96</text>
<text class="hr" x="610.25" y="567.15" textLength="21" lengthAdjust="spacing">120</text>
<g fill="#1e3cff" stroke="#1e3cff">
<polyline class="trk" points="242.5,816.5 254.4,761.7 280.6,700 339.2,649.2 403.25,616.75 476.25,598.25 546.5,587.75 590.5,591.5 596.25,580.5 605.25,558.25 619.75,551.25"/>
<circle cx="254.4" cy="761.7" r="3.05" fill="none" stroke-width="1.2"/>
<circle cx="280.6" cy="700" r="3" stroke="none"/>
<circle cx="339.2" cy="649.2" r="3.05" fill="none" stroke-width="1.2"/>
<circle cx="403.25" cy="616.75" r="3" stroke="none"/>
<circle cx="476.25" cy="598.25" r="3.05" fill="none" stroke-width="1.2"/>
<circle cx="546.5" cy="587.75" r="3" stroke="none"/>
<circle cx="590.5" cy="591.5" r="3.05" fill="none" stroke-width="1.2"/>
<circle cx="596.25" cy="580.5" r="3" stroke="none"/>
<circle cx="605.25" cy="558.25" r="3.05" fill="none" stroke-width="1.2"/>
<circle cx="619.75" cy="551.25" r="3" stroke="none"/>
<text class="nm" x="595.55" y="546.55" textLength="48.6" lengthAdjust="spacingAndGlyphs">SHNS</text>
</g>
<text class="hr" x="273.55" y="715.9" textLength="14.3" lengthAdjust="spacing">24</text>
<text class="hr" x="396.2" y="632.65" textLength="14.3" lengthAdjust="spacing">48</text>
<text class="hr" x="539.45" y="603.65" textLength="14.3" lengthAdjust="spacing">72</text>
<text class="hr" x="589.2" y="596.4" textLength="14.3" lengthAdjust="spacing">96</text>
<text class="hr" x="610.25" y="567.15" textLength="21" lengthAdjust="spacing">120</text>
<g stroke="#000" stroke-linecap="square"><line x1="166.25" y1="90.0" x2="166.25" y2="940.0" stroke-width="2.5"/><line x1="1055.25" y1="90.0" x2="1055.25" y2="940.0" stroke-width="2.5"/><line x1="166.25" y1="90.0" x2="1055.25" y2="90.0" stroke-width="2.1"/><line x1="166.25" y1="940.0" x2="1055.25" y2="940.0" stroke-width="2.1"/></g>
<g stroke="#000" stroke-width="1.8">
<line x1="159.9" y1="148.25" x2="166.25" y2="148.25"/>
<line x1="159.9" y1="329.85" x2="166.25" y2="329.85"/>
<line x1="159.9" y1="511.4" x2="166.25" y2="511.4"/>
<line x1="159.9" y1="692.95" x2="166.25" y2="692.95"/>
<line x1="159.9" y1="874.5" x2="166.25" y2="874.5"/>
<line x1="222.03" y1="940.0" x2="222.03" y2="946.6"/>
<line x1="368.21" y1="940.0" x2="368.21" y2="946.6"/>
<line x1="514.39" y1="940.0" x2="514.39" y2="946.6"/>
<line x1="660.57" y1="940.0" x2="660.57" y2="946.6"/>
<line x1="806.75" y1="940.0" x2="806.75" y2="946.6"/>
<line x1="952.93" y1="940.0" x2="952.93" y2="946.6"/>
</g>
<text class="ax" x="115.7" y="157.15" textLength="37.2" lengthAdjust="spacingAndGlyphs">45N</text>
<text class="ax" x="115.7" y="338.75" textLength="37.2" lengthAdjust="spacingAndGlyphs">40N</text>
<text class="ax" x="115.7" y="520.3" textLength="37.2" lengthAdjust="spacingAndGlyphs">35N</text>
<text class="ax" x="115.7" y="701.85" textLength="37.2" lengthAdjust="spacingAndGlyphs">30N</text>
<text class="ax" x="115.7" y="883.4" textLength="37.2" lengthAdjust="spacingAndGlyphs">25N</text>
<text class="ax" x="202.63" y="967.7" textLength="38.6" lengthAdjust="spacingAndGlyphs">70W</text>
<text class="ax" x="348.81" y="967.7" textLength="38.6" lengthAdjust="spacingAndGlyphs">65W</text>
<text class="ax" x="494.99" y="967.7" textLength="38.6" lengthAdjust="spacingAndGlyphs">60W</text>
<text class="ax" x="641.17" y="967.7" textLength="38.6" lengthAdjust="spacingAndGlyphs">55W</text>
<text class="ax" x="787.35" y="967.7" textLength="38.6" lengthAdjust="spacingAndGlyphs">50W</text>
<text class="ax" x="933.53" y="967.7" textLength="38.6" lengthAdjust="spacingAndGlyphs">45W</text>
<text class="ttl" y="56.6" xml:space="preserve"><tspan x="166.4" textLength="85.4" lengthAdjust="spacingAndGlyphs">Atlantic</tspan> <tspan x="265.6" textLength="90.7" lengthAdjust="spacingAndGlyphs">Tropical</tspan> <tspan x="371.4" textLength="137.1" lengthAdjust="spacingAndGlyphs">Disturbance</tspan> <tspan x="523.9" textLength="86.6" lengthAdjust="spacingAndGlyphs">HARVEY</tspan> <tspan x="625.6" textLength="64.9" lengthAdjust="spacingAndGlyphs">Model</tspan> <tspan x="703.6" textLength="76.2" lengthAdjust="spacingAndGlyphs">Tracks</tspan></text>
<text class="ttl" y="81.2" xml:space="preserve"><tspan x="166.4" textLength="54.1" lengthAdjust="spacingAndGlyphs">Valid</tspan> <tspan x="234.4" textLength="62.4" lengthAdjust="spacingAndGlyphs">Time:</tspan> <tspan x="313.1" textLength="56.2" lengthAdjust="spacingAndGlyphs">1200</tspan> <tspan x="385.6" textLength="43.7" lengthAdjust="spacingAndGlyphs">UTC</tspan> <tspan x="443.1" textLength="28.7" lengthAdjust="spacingAndGlyphs">02</tspan> <tspan x="486.4" textLength="79.1" lengthAdjust="spacingAndGlyphs">August</tspan> <tspan x="579.4" textLength="59.1" lengthAdjust="spacingAndGlyphs">2005</tspan></text>
<line x1="1090.2" y1="93.9" x2="1101.9" y2="93.9" stroke="#fa3c3c" stroke-width="2" stroke-linecap="round"/>
<text class="nm" fill="#fa3c3c" stroke="#fa3c3c" x="1125.2" y="101.1" textLength="35.9" lengthAdjust="spacingAndGlyphs">EMX</text>
<line x1="1090.2" y1="111.97" x2="1101.9" y2="111.97" stroke="#00dc00" stroke-width="2" stroke-linecap="round"/>
<text class="nm" fill="#00dc00" stroke="#00dc00" x="1125.2" y="119.17" textLength="35.9" lengthAdjust="spacingAndGlyphs">NGX</text>
<line x1="1090.2" y1="130.04" x2="1101.9" y2="130.04" stroke="#1e3cff" stroke-width="2" stroke-linecap="round"/>
<text class="nm" fill="#1e3cff" stroke="#1e3cff" x="1125.2" y="137.24" textLength="44.6" lengthAdjust="spacingAndGlyphs">A90E</text>
<line x1="1090.2" y1="148.11" x2="1101.9" y2="148.11" stroke="#00c8c8" stroke-width="2" stroke-linecap="round"/>
<text class="nm" fill="#00c8c8" stroke="#00c8c8" x="1125.2" y="155.31" textLength="44.6" lengthAdjust="spacingAndGlyphs">A98E</text>
<line x1="1090.2" y1="166.18" x2="1101.9" y2="166.18" stroke="#f00082" stroke-width="2" stroke-linecap="round"/>
<text class="nm" fill="#f00082" stroke="#f00082" x="1125.2" y="173.38" textLength="46.9" lengthAdjust="spacingAndGlyphs">A9UK</text>
<line x1="1090.2" y1="184.25" x2="1101.9" y2="184.25" stroke="#e6dc32" stroke-width="2" stroke-linecap="round"/>
<text class="nm" fill="#e6dc32" stroke="#e6dc32" x="1125.2" y="191.45" textLength="48.7" lengthAdjust="spacingAndGlyphs">BAMD</text>
<line x1="1090.2" y1="202.32" x2="1101.9" y2="202.32" stroke="#f08228" stroke-width="2" stroke-linecap="round"/>
<text class="nm" fill="#f08228" stroke="#f08228" x="1125.2" y="209.52" textLength="49.9" lengthAdjust="spacingAndGlyphs">BAMM</text>
<line x1="1090.2" y1="220.39" x2="1101.9" y2="220.39" stroke="#a000c8" stroke-width="2" stroke-linecap="round"/>
<text class="nm" fill="#a000c8" stroke="#a000c8" x="1125.2" y="227.59" textLength="48.1" lengthAdjust="spacingAndGlyphs">BAMS</text>
<line x1="1090.2" y1="238.46" x2="1101.9" y2="238.46" stroke="#a0e632" stroke-width="2" stroke-linecap="round"/>
<text class="nm" fill="#a0e632" stroke="#a0e632" x="1125.2" y="245.66" textLength="38.3" lengthAdjust="spacingAndGlyphs">CLIP</text>
<line x1="1090.2" y1="256.53" x2="1101.9" y2="256.53" stroke="#00a0ff" stroke-width="2" stroke-linecap="round"/>
<text class="nm" fill="#00a0ff" stroke="#00a0ff" x="1125.2" y="263.73" textLength="45.4" lengthAdjust="spacingAndGlyphs">CLP5</text>
<line x1="1090.2" y1="274.6" x2="1101.9" y2="274.6" stroke="#e6af2d" stroke-width="2" stroke-linecap="round"/>
<text class="nm" fill="#e6af2d" stroke="#e6af2d" x="1125.2" y="281.8" textLength="49.8" lengthAdjust="spacingAndGlyphs">CONU</text>
<line x1="1090.2" y1="292.67" x2="1101.9" y2="292.67" stroke="#00d28c" stroke-width="2" stroke-linecap="round"/>
<text class="nm" fill="#00d28c" stroke="#00d28c" x="1125.2" y="299.87" textLength="48" lengthAdjust="spacingAndGlyphs">DSHP</text>
<line x1="1090.2" y1="310.74" x2="1101.9" y2="310.74" stroke="#8200dc" stroke-width="2" stroke-linecap="round"/>
<text class="nm" fill="#8200dc" stroke="#8200dc" x="1125.2" y="317.94" textLength="48" lengthAdjust="spacingAndGlyphs">DSNS</text>
<line x1="1090.2" y1="328.81" x2="1101.9" y2="328.81" stroke="#fa3c3c" stroke-width="2" stroke-linecap="round"/>
<text class="nm" fill="#fa3c3c" stroke="#fa3c3c" x="1125.2" y="336.01" textLength="44.7" lengthAdjust="spacingAndGlyphs">LBAR</text>
<line x1="1090.2" y1="346.88" x2="1101.9" y2="346.88" stroke="#00dc00" stroke-width="2" stroke-linecap="round"/>
<text class="nm" fill="#00dc00" stroke="#00dc00" x="1125.2" y="354.08" textLength="40.5" lengthAdjust="spacingAndGlyphs">SHIP</text>
<line x1="1090.2" y1="364.95" x2="1101.9" y2="364.95" stroke="#1e3cff" stroke-width="2" stroke-linecap="round"/>
<text class="nm" fill="#1e3cff" stroke="#1e3cff" x="1125.2" y="372.15" textLength="48.6" lengthAdjust="spacingAndGlyphs">SHNS</text>
<g class="ft">
<text y="987.7" xml:space="preserve"><tspan x="12" textLength="59.0" lengthAdjust="spacing">Tropical</tspan> <tspan x="80" textLength="58.1" lengthAdjust="spacing">Cyclone</tspan> <tspan x="148.3" textLength="42.8" lengthAdjust="spacing">Model</tspan> <tspan x="200.8" textLength="37.2" lengthAdjust="spacing">Plots</tspan></text>
<text y="987.7" xml:space="preserve"><tspan x="756.5" textLength="92.9" lengthAdjust="spacing">DISCLAIMER:</tspan> <tspan x="858.3" textLength="18.7" lengthAdjust="spacing">Do</tspan> <tspan x="886.5" textLength="24.1" lengthAdjust="spacing">not</tspan> <tspan x="920.8" textLength="24.8" lengthAdjust="spacing">use</tspan> <tspan x="955.8" textLength="27.2" lengthAdjust="spacing">this</tspan> <tspan x="992" textLength="46.2" lengthAdjust="spacing">image</tspan> <tspan x="1047.5" textLength="12.9" lengthAdjust="spacing">in</tspan> <tspan x="1069.5" textLength="39.9" lengthAdjust="spacing">place</tspan> <tspan x="1119.5" textLength="16.1" lengthAdjust="spacing">of</tspan> <tspan x="1144.5" textLength="49.7" lengthAdjust="spacing">official</tspan> <tspan x="1204.5" textLength="63.4" lengthAdjust="spacing">sources!</tspan></text>
<text y="999.7" xml:space="preserve"><tspan x="12" textLength="39.9" lengthAdjust="spacing">http:</tspan><tspan x="52.5" textLength="17.0" lengthAdjust="spacingAndGlyphs">//</tspan><tspan x="69.5" textLength="177.5" lengthAdjust="spacing">derecho.math.uwm.edu</tspan><tspan x="248" textLength="9.5" lengthAdjust="spacingAndGlyphs">/</tspan><tspan x="259.5" textLength="53.7" lengthAdjust="spacing">models</tspan><tspan x="314.5" textLength="9.5" lengthAdjust="spacingAndGlyphs">/</tspan></text>
<text y="999.7" xml:space="preserve"><tspan x="737.5" textLength="25.6" lengthAdjust="spacing">The</tspan> <tspan x="773.3" textLength="50.1" lengthAdjust="spacing">official</tspan> <tspan x="833.3" textLength="31.3" lengthAdjust="spacing">NHC</tspan> <tspan x="874.5" textLength="62.4" lengthAdjust="spacing">forecast</tspan> <tspan x="946.3" textLength="11.5" lengthAdjust="spacing">is</tspan> <tspan x="968.3" textLength="64.7" lengthAdjust="spacing">available</tspan> <tspan x="1042.5" textLength="15.0" lengthAdjust="spacing">at</tspan> <tspan x="1067" textLength="39.9" lengthAdjust="spacing">http:</tspan><tspan x="1107.5" textLength="17.0" lengthAdjust="spacingAndGlyphs">//</tspan><tspan x="1125" textLength="142.9" lengthAdjust="spacing">www.nhc.noaa.gov.</tspan></text>
<text y="1011.6" xml:space="preserve"><tspan x="12" textLength="142.4" lengthAdjust="spacing">@HurricaneModels,</tspan> <tspan x="165" textLength="39.4" lengthAdjust="spacing">http:</tspan><tspan x="205" textLength="17.0" lengthAdjust="spacingAndGlyphs">//</tspan><tspan x="222" textLength="145.0" lengthAdjust="spacing">www.facebook.com</tspan><tspan x="368.3" textLength="9.5" lengthAdjust="spacingAndGlyphs">/</tspan><tspan x="379.5" textLength="83.6" lengthAdjust="spacing">HurrModels</tspan></text>
<text y="1011.6" xml:space="preserve"><tspan x="480.8" textLength="66.8" lengthAdjust="spacing">Forecast</tspan> <tspan x="556.5" textLength="46.0" lengthAdjust="spacing">points</tspan> <tspan x="612.5" textLength="44.5" lengthAdjust="spacing">above</tspan> <tspan x="666.5" textLength="23.6" lengthAdjust="spacing">are</tspan> <tspan x="699.5" textLength="47.5" lengthAdjust="spacing">shown</tspan> <tspan x="756" textLength="13.2" lengthAdjust="spacing">in</tspan> <tspan x="778.3" textLength="41.3" lengthAdjust="spacing">6-12</tspan> <tspan x="829.5" textLength="14.8" lengthAdjust="spacing">hr</tspan> <tspan x="853.3" textLength="89.8" lengthAdjust="spacing">increments.</tspan> <tspan x="953.3" textLength="39.6" lengthAdjust="spacing">Initial</tspan> <tspan x="1003.3" textLength="46.0" lengthAdjust="spacing">points</tspan> <tspan x="1058.3" textLength="61.2" lengthAdjust="spacing">denoted</tspan> <tspan x="1128.3" textLength="16.1" lengthAdjust="spacing">by</tspan> <tspan x="1154.5" textLength="38.5" lengthAdjust="spacing">black</tspan> <tspan x="1204.5" textLength="63.4" lengthAdjust="spacing">squares.</tspan></text>
</g>
</svg>
</body></html>
